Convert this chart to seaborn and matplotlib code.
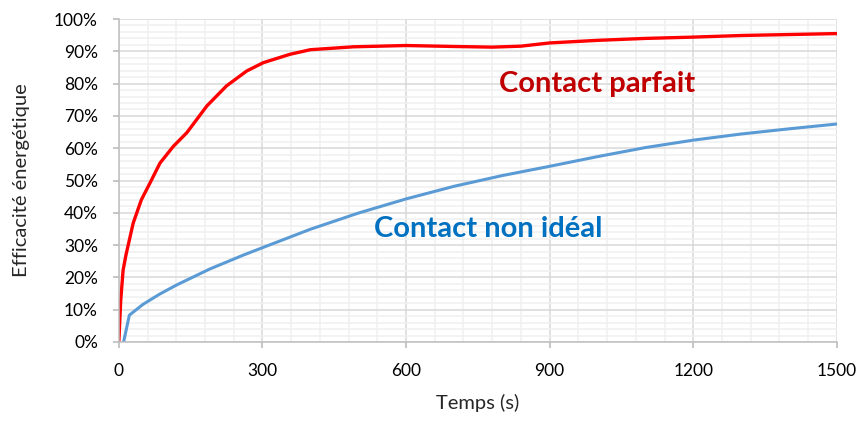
import matplotlib
matplotlib.use("Agg")
import matplotlib.pyplot as plt
import seaborn as sns
import pandas as pd
from matplotlib.ticker import MultipleLocator, PercentFormatter

# ---- data ----
red_t = [0, 4, 9, 15, 30, 47, 65, 86, 114, 142, 184, 225, 267, 302, 358, 400,
         490, 600, 700, 780, 840, 900, 1000, 1100, 1200, 1300, 1400, 1500]
red_y = [0, 12.9, 22.3, 27, 36.8, 44, 49.2, 55.4, 60.6, 64.8, 73.1, 79.3, 83.9,
         86.5, 89.1, 90.5, 91.4, 91.8, 91.5, 91.3, 91.6, 92.6, 93.4, 94, 94.4,
         94.9, 95.2, 95.5]

blue_t = [10, 22, 50, 85, 120, 190, 260, 300, 400, 500, 600, 700, 800, 900,
          1000, 1100, 1200, 1300, 1400, 1500]
blue_y = [0, 8.3, 11.6, 14.8, 17.6, 22.6, 26.9, 29.2, 34.9, 39.9, 44.3, 48.2,
          51.5, 54.4, 57.4, 60.2, 62.5, 64.4, 66, 67.5]

df_red = pd.DataFrame({"t": red_t, "eff": red_y})
df_blue = pd.DataFrame({"t": blue_t, "eff": blue_y})

# ---- style ----
sns.set_theme(style="white")
plt.rcParams['font.family'] = ['Lato', 'DejaVu Sans']

fig = plt.figure(figsize=(8.61, 4.23), dpi=100)
ax = fig.add_axes([0.138, 0.1915, 0.834, 0.7635])

sns.lineplot(data=df_blue, x="t", y="eff", color="#5b9bd5", linewidth=2.2, ax=ax)
sns.lineplot(data=df_red, x="t", y="eff", color="#ff0000", linewidth=2.4, ax=ax)

ax.set_xlim(0, 1500)
ax.set_ylim(0, 100)
ax.xaxis.set_major_locator(MultipleLocator(300))
ax.xaxis.set_minor_locator(MultipleLocator(60))
ax.yaxis.set_major_locator(MultipleLocator(10))
ax.yaxis.set_minor_locator(MultipleLocator(2))
ax.yaxis.set_major_formatter(PercentFormatter(100, decimals=0))

ax.grid(which="major", color="#d9d9d9", linewidth=1.1)
ax.grid(which="minor", color="#f0f0f0", linewidth=1.1)
ax.set_axisbelow(True)

for side in ["top", "right"]:
    ax.spines[side].set_visible(False)
for side in ["left", "bottom"]:
    ax.spines[side].set_color("#bfbfbf")
    ax.spines[side].set_linewidth(1.1)

ax.tick_params(which="major", direction="out", length=4, color="#bfbfbf",
               labelsize=12.5, labelcolor="black", left=True, bottom=True)
ax.tick_params(which="minor", length=0)
ax.tick_params(axis="y", pad=11)
ax.tick_params(axis="x", pad=11)

ax.set_xlabel("Temps (s)", fontsize=14.5, labelpad=11)
ax.set_ylabel("Efficacité énergétique", fontsize=14.5, labelpad=17)

ax.text(998, 80, "Contact parfait", color="#c00000", fontsize=21,
        fontweight="bold", ha="center", va="center")
ax.text(771, 35, "Contact non idéal", color="#0070c0", fontsize=21,
        fontweight="bold", ha="center", va="center")

fig.savefig("out.png", dpi=100)
